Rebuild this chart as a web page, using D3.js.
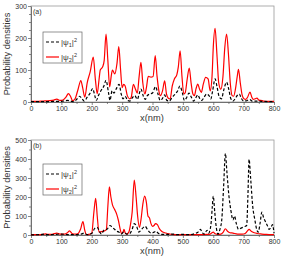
<!DOCTYPE html>
<html><head><meta charset="utf-8">
<script src="https://cdn.jsdelivr.net/npm/d3@7/dist/d3.min.js"></script>
<style>body{margin:0;background:#fff}svg{display:block;font-family:"Liberation Sans",Arial,sans-serif}</style>
</head><body>
<script>
// Panel (a)
const aPsi2X = [0,20,40,60,75,85,95,105,115,123,130,137,145,155,164,170,177,185,195,205,212,218,224,228,236,241,247,253,259,264,268,276,283,289,295,300,305,310,317,325,330,337,344,350,356,362,368,375,380,386,395,402,409,415,421,426,433,440,446,452,458,465,472,480,485,491,497,503,508,514,521,527,533,538,543,549,555,561,567,575,583,590,596,600,606,612,618,625,632,638,644,650,656,662,667,673,679,683,689,695,701,707,713,721,727,732,738,744,750,756,765,775,785,800];
const aPsi2Y = [2,2,3,4,6,9,5,6,15,26,18,4,10,40,67,45,15,60,95,140,70,26,70,100,110,130,212,130,47,80,100,88,120,173,100,45,55,50,20,10,15,55,40,28,80,124,60,25,45,80,78,80,145,80,35,20,35,66,25,12,10,50,72,85,110,160,80,25,30,70,106,60,25,20,40,56,40,30,55,77,72,35,80,170,230,150,60,40,80,170,212,150,60,20,18,40,80,102,60,22,10,8,15,31,15,8,10,12,6,5,3,2,2,2];
const aPsi1X = [0,50,80,100,120,130,140,150,160,168,175,185,195,203,210,215,222,230,240,247,255,260,267,273,280,290,297,303,310,318,325,335,342,350,356,362,370,376,383,392,400,410,418,425,432,440,447,455,465,475,483,490,498,505,513,520,528,535,542,549,556,562,570,578,586,592,598,606,613,620,627,634,644,651,658,665,672,680,686,692,700,710,720,728,740,760,800];
const aPsi1Y = [1,1,2,2,5,3,1,8,18,10,3,15,28,42,20,5,20,35,50,68,30,5,35,28,40,55,25,10,18,5,3,15,20,8,25,40,18,8,20,25,28,48,25,5,10,22,5,3,15,25,35,50,30,5,15,28,15,3,12,22,10,5,15,25,20,10,35,72,45,15,10,35,62,40,10,3,10,22,25,12,3,4,8,3,3,2,1];
// Panel (b)
const bPsi2X = [0,20,40,48,55,70,85,95,110,120,127,135,145,155,163,171,177,182,190,200,207,213,218,224,232,240,248,253,258,263,268,275,282,288,293,298,303,306,310,315,322,328,333,340,346,351,357,362,368,374,380,385,390,395,400,405,410,416,422,430,440,450,460,470,500,550,580,590,596,600,605,615,625,633,640,647,655,665,680,695,705,712,718,725,735,745,760,775,790,800];
const bPsi2Y = [2,2,3,6,3,4,10,5,5,12,22,8,5,8,30,70,25,2,3,10,120,193,100,15,18,20,28,150,254,200,160,135,110,75,35,8,15,30,12,5,15,60,120,289,200,100,40,80,160,205,170,100,90,60,45,50,60,55,35,20,12,8,4,2,2,2,3,5,12,15,8,3,5,15,33,20,12,10,5,5,8,20,30,20,12,8,5,3,2,2];
const bPsi1X = [0,30,45,50,80,100,120,140,165,175,185,200,210,218,225,232,240,250,260,268,275,282,290,297,305,315,325,333,340,348,355,362,370,376,383,390,397,405,412,418,430,450,470,480,500,520,540,550,558,563,570,580,585,592,597,600,605,610,615,622,628,634,640,645,652,658,665,670,676,683,690,697,704,710,714,718,723,730,737,743,748,754,760,766,772,778,784,790,795,800];
const bPsi1Y = [1,2,5,2,3,5,2,2,5,10,2,8,35,40,20,5,25,30,50,40,30,20,15,5,15,5,8,30,60,45,15,25,40,45,30,15,10,15,20,10,3,3,5,2,3,2,8,15,30,15,5,25,10,50,150,205,120,40,5,30,80,250,430,330,200,130,80,100,60,30,35,40,45,50,200,398,300,150,80,30,15,60,120,90,70,50,30,40,55,10];

const xTicks = [0,100,200,300,400,500,600,700,800];
const aYTicks = [0,100,200,300];
const bYTicks = [0,100,200,300,400,500];
const legendLabels = ["1","2"];

const W = 283, H = 259;
const svg = d3.select("body").append("svg").attr("width", W).attr("height", H);

function panel(cfg){
  const x = d3.scaleLinear().domain([0,800]).range([31,274]);
  const y = d3.scaleLinear().domain([0,cfg.ymax]).range([cfg.bottom,cfg.top]);
  const g = svg.append("g");
  g.append("rect").attr("x",31).attr("y",cfg.top).attr("width",243).attr("height",cfg.bottom-cfg.top)
    .attr("fill","none").attr("stroke","#999").attr("stroke-width",0.8);
  const xMinor = d3.range(50,800,100);
  const yMinor = d3.range(cfg.minor, cfg.ymax, cfg.minor).filter(v => v % 100 !== 0);
  g.append("g").attr("transform",`translate(0,${cfg.bottom})`)
    .call(d3.axisBottom(x).tickValues(xMinor).tickSize(2).tickFormat(""))
    .call(a=>a.select(".domain").remove());
  g.append("g").attr("transform",`translate(31,0)`)
    .call(d3.axisLeft(y).tickValues(yMinor).tickSize(2).tickFormat(""))
    .call(a=>a.select(".domain").remove());
  const ax = g.append("g").attr("transform",`translate(0,${cfg.bottom})`)
    .call(d3.axisBottom(x).tickValues(xTicks).tickSize(3).tickSizeOuter(0).tickPadding(1.5));
  ax.selectAll("text").attr("font-size",7).attr("fill","#333");
  const ay = g.append("g").attr("transform",`translate(31,0)`)
    .call(d3.axisLeft(y).tickValues(cfg.yTicks).tickSize(3).tickSizeOuter(0).tickPadding(1));
  ay.selectAll("text").attr("font-size",7).attr("fill","#333");
  g.selectAll(".domain").attr("stroke","#555").attr("stroke-width",0.8);
  g.selectAll(".tick line").attr("stroke","#555").attr("stroke-width",0.7);

  const line = d3.line().x(d=>x(d[0])).y(d=>y(d[1])).curve(d3.curveMonotoneX);
  g.append("path").datum(d3.zip(cfg.p2x,cfg.p2y)).attr("d",line)
    .attr("fill","none").attr("stroke","#ff0000").attr("stroke-width",1.2).attr("stroke-linejoin","round");
  g.append("path").datum(d3.zip(cfg.p1x,cfg.p1y)).attr("d",line)
    .attr("fill","none").attr("stroke","#000").attr("stroke-width",1.2).attr("stroke-dasharray","3,2");

  g.append("text").attr("x",33).attr("y",cfg.top+8).attr("font-size",7).attr("fill","#333").text(cfg.tag);
  g.append("text").attr("transform",`translate(10,${(cfg.top+cfg.bottom)/2}) rotate(-90)`)
    .attr("text-anchor","middle").attr("font-size",9.3).attr("fill","#333").text("Probability densities");
  g.append("text").attr("x",152).attr("y",cfg.bottom+19).attr("text-anchor","middle")
    .attr("font-size",9.3).attr("fill","#333").text("x(nm)");

  const lg = g.append("g").attr("transform",`translate(43,${cfg.legTop})`);
  lg.append("rect").attr("width",39).attr("height",31).attr("fill","#fff").attr("stroke","#666").attr("stroke-width",0.7);
  legendLabels.forEach((s,i)=>{
    const yy = 10 + i*15;
    lg.append("line").attr("x1",3).attr("x2",16).attr("y1",yy).attr("y2",yy)
      .attr("stroke", i===0 ? "#000" : "#ff0000").attr("stroke-width",1.2)
      .attr("stroke-dasharray", i===0 ? "3,2" : null);
    const t = lg.append("text").attr("x",18).attr("y",yy+3).attr("font-size",8).attr("fill","#333");
    t.append("tspan").text("|ψ");
    t.append("tspan").attr("font-size",5.5).attr("dy",2).text(s);
    t.append("tspan").attr("dy",-2).text("|");
    t.append("tspan").attr("font-size",5.5).attr("dy",-3).text("2");
  });
}

panel({top:6,bottom:102,ymax:300,yTicks:aYTicks,minor:25,p1x:aPsi1X,p1y:aPsi1Y,p2x:aPsi2X,p2y:aPsi2Y,tag:"(a)",legTop:32});
panel({top:140,bottom:235,ymax:500,yTicks:bYTicks,minor:50,p1x:bPsi1X,p1y:bPsi1Y,p2x:bPsi2X,p2y:bPsi2Y,tag:"(b)",legTop:164});
</script>
</body></html>
